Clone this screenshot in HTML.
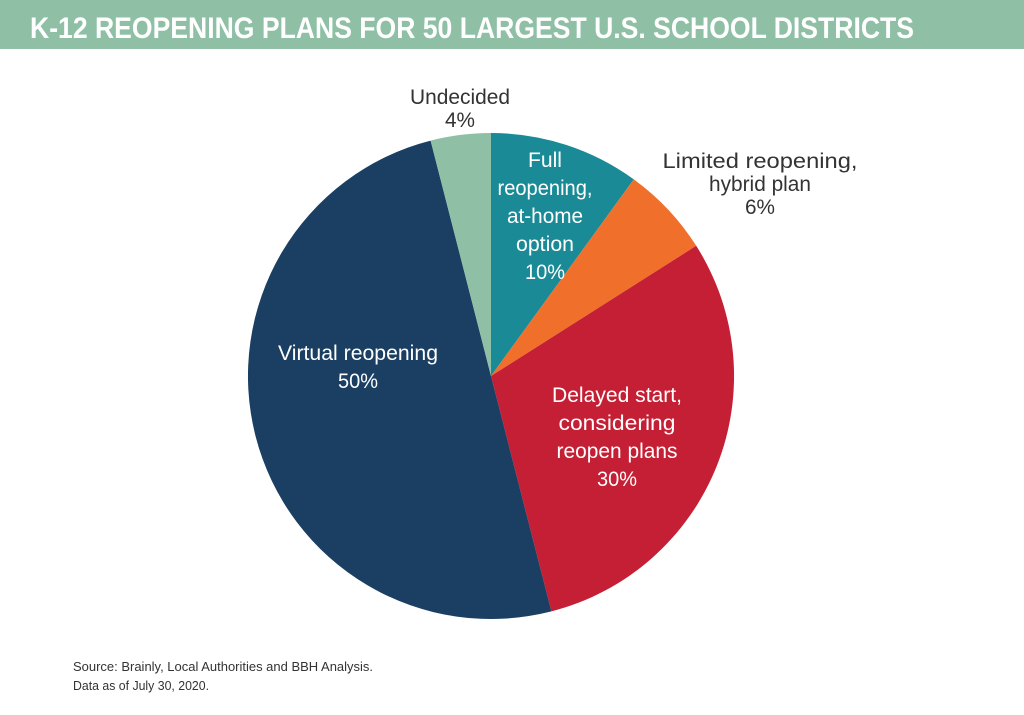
<!DOCTYPE html>
<html><head><meta charset="utf-8"><style>
html,body{margin:0;padding:0;background:#fff;}
</style></head><body>
<svg width="1024" height="710" viewBox="0 0 1024 710" xmlns="http://www.w3.org/2000/svg" font-family="Liberation Sans Narrow, Liberation Sans, sans-serif">
<rect x="0" y="0" width="1024" height="710" fill="#fff"/>
<rect x="0" y="0" width="1024" height="49" fill="#8fc0a6"/>
<text x="30" y="38" font-size="30" font-weight="bold" fill="#fff" textLength="884" lengthAdjust="spacingAndGlyphs">K-12 REOPENING PLANS FOR 50 LARGEST U.S. SCHOOL DISTRICTS</text>
<g stroke="none">
<path d="M491,376 L491,133 A243,243 0 0 1 633.8,179.4 Z" fill="#1a8b96"/>
<path d="M491,376 L633.8,179.4 A243,243 0 0 1 696.2,245.8 Z" fill="#f0702b"/>
<path d="M491,376 L696.2,245.8 A243,243 0 0 1 551.4,611.4 Z" fill="#c41f34"/>
<path d="M491,376 L551.4,611.4 A243,243 0 0 1 430.6,140.6 Z" fill="#1b3f63"/>
<path d="M491,376 L430.6,140.6 A243,243 0 0 1 491,133 Z" fill="#8fc0a6"/>
</g>
<g font-size="21" text-anchor="middle" fill="#fff" lengthAdjust="spacingAndGlyphs">
<text x="545" y="167" textLength="34" lengthAdjust="spacingAndGlyphs">Full</text>
<text x="545" y="195" textLength="95" lengthAdjust="spacingAndGlyphs">reopening,</text>
<text x="545" y="223" textLength="76" lengthAdjust="spacingAndGlyphs">at-home</text>
<text x="545" y="251" textLength="58" lengthAdjust="spacingAndGlyphs">option</text>
<text x="545" y="279" textLength="40" lengthAdjust="spacingAndGlyphs">10%</text>
<text x="617" y="402" textLength="130" lengthAdjust="spacingAndGlyphs">Delayed start,</text>
<text x="617" y="430" textLength="117" lengthAdjust="spacingAndGlyphs">considering</text>
<text x="617" y="458" textLength="121" lengthAdjust="spacingAndGlyphs">reopen plans</text>
<text x="617" y="486" textLength="40" lengthAdjust="spacingAndGlyphs">30%</text>
<text x="358" y="360" textLength="160" lengthAdjust="spacingAndGlyphs">Virtual reopening</text>
<text x="358" y="388" textLength="40" lengthAdjust="spacingAndGlyphs">50%</text>
</g>
<g font-size="21" text-anchor="middle" fill="#333">
<text x="460" y="104" textLength="100" lengthAdjust="spacingAndGlyphs">Undecided</text>
<text x="460" y="127" textLength="30" lengthAdjust="spacingAndGlyphs">4%</text>
<text x="760" y="168" textLength="195" lengthAdjust="spacingAndGlyphs">Limited reopening,</text>
<text x="760" y="191" textLength="102" lengthAdjust="spacingAndGlyphs">hybrid plan</text>
<text x="760" y="214" textLength="30" lengthAdjust="spacingAndGlyphs">6%</text>
</g>
<g font-size="13" fill="#333">
<text x="73" y="671" textLength="300" lengthAdjust="spacingAndGlyphs">Source: Brainly, Local Authorities and BBH Analysis.</text>
<text x="73" y="690" textLength="136" lengthAdjust="spacingAndGlyphs">Data as of July 30, 2020.</text>
</g>
</svg>
</body></html>
